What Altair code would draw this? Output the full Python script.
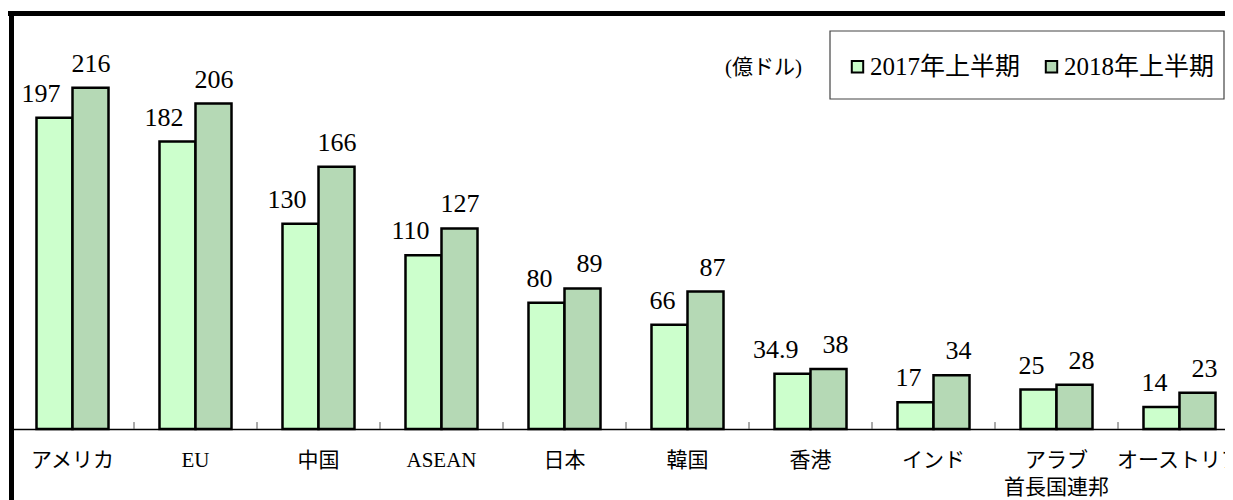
import altair as alt
import pandas as pd

categories = ["アメリカ", "EU", "中国", "ASEAN", "日本", "韓国", "香港", "インド", "アラブ\n首長国連邦", "オーストリア"]
years = ["2017年上半期", "2018年上半期"]
v2017 = [197, 182, 130, 110, 80, 66, 34.9, 17, 25, 14]
v2018 = [216, 206, 166, 127, 89, 87, 38, 34, 28, 23]
unit_note = "(億ドル)"

rows = []
for c, a, b in zip(categories, v2017, v2018):
    rows.append({"cat": c, "year": years[0], "value": a, "label": f"{a:g}"})
    rows.append({"cat": c, "year": years[1], "value": b, "label": f"{b:g}"})
df = pd.DataFrame(rows)
cat_df = pd.DataFrame({"cat": categories})

FONT = "'Liberation Serif', 'Noto Sans CJK JP', serif"

x_enc = alt.X(
    "cat:N", sort=categories, title=None,
    scale=alt.Scale(range=[0, 1230], paddingInner=0, paddingOuter=0),
    axis=alt.Axis(labelAngle=0, ticks=False, domainColor="black", domainWidth=1.5,
                  labelFont=FONT, labelFontSize=21, labelColor="black",
                  labelPadding=20, labelLineHeight=27, labelOverlap=False,
                  labelLimit=400, labelExpr="split(datum.label, '\\n')"),
)
xo_enc = alt.XOffset("year:N", sort=years,
                     scale=alt.Scale(paddingInner=0, paddingOuter=0.708))
y_enc = alt.Y("value:Q", scale=alt.Scale(domain=[0, 264], nice=False, zero=True), axis=None)

base = alt.Chart(df)

bars = base.mark_bar(stroke="black", strokeWidth=2.5).encode(
    x=x_enc, xOffset=xo_enc, y=y_enc,
    color=alt.Color("year:N", sort=years,
                    scale=alt.Scale(domain=years, range=["#ccffcc", "#b5d9b5"]),
                    legend=alt.Legend(title=None, orient="none", legendX=824, legendY=32,
                                      direction="horizontal", padding=10,
                                      symbolType="square", symbolSize=130,
                                      symbolStrokeColor="black", symbolStrokeWidth=2,
                                      labelFont=FONT, labelFontSize=25, labelColor="black",
                                      labelOffset=0, columnPadding=18, labelLimit=400)),
)

lab17 = base.transform_filter(alt.datum.year == years[0]).mark_text(
    align="right", baseline="alphabetic", dx=6, dy=-16,
    font=FONT, fontSize=26, color="black",
).encode(x=x_enc, xOffset=xo_enc, y=y_enc, text="label:N")

lab18 = base.transform_filter(alt.datum.year == years[1]).mark_text(
    align="right", baseline="alphabetic", dx=20, dy=-16,
    font=FONT, fontSize=26, color="black",
).encode(x=x_enc, xOffset=xo_enc, y=y_enc, text="label:N")

ticks = alt.Chart(cat_df).mark_rule(color="#555555", strokeWidth=1).encode(
    x=alt.X("cat:N", sort=categories, bandPosition=0),
    y=alt.datum(0), y2=alt.datum(4.4),
)

one = pd.DataFrame({"a": [0]})
frame_top = alt.Chart(one).mark_rule(color="black", strokeWidth=5).encode(
    x=alt.value(-3), x2=alt.value(1230), y=alt.value(1.5))
frame_left = alt.Chart(one).mark_rule(color="black", strokeWidth=5).encode(
    x=alt.value(0.5), y=alt.value(-1), y2=alt.value(500))

legend_box = alt.Chart(one).mark_rect(fill="white", stroke="#444444", strokeWidth=1.2).encode(
    x=alt.value(819), x2=alt.value(1213), y=alt.value(19), y2=alt.value(87))

note = alt.Chart(pd.DataFrame({"t": [unit_note]})).mark_text(
    align="right", baseline="middle", font=FONT, fontSize=21, color="black",
).encode(x=alt.value(791), y=alt.value(56), text="t:N")

chart = alt.layer(bars, lab17, lab18, ticks, note, legend_box, frame_top, frame_left).properties(
    width=1214, height=417,
    autosize=alt.AutoSizeParams(type="none"),
    padding={"left": 3, "top": 4, "right": 0, "bottom": 71},
).configure_view(stroke=None)

chart.save("out.html", embed_options={"renderer": "svg", "actions": False})
